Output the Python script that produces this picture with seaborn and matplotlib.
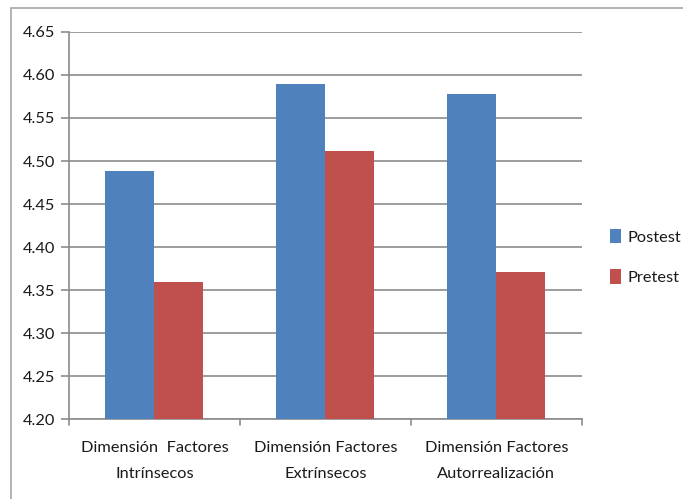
import matplotlib
matplotlib.use("Agg")
import matplotlib.pyplot as plt
from matplotlib.patches import Rectangle, Patch
import seaborn as sns
import pandas as pd

categories = ["Dimensión  Factores\nIntrínsecos",
              "Dimensión Factores\nExtrínsecos",
              "Dimensión Factores\nAutorrealización"]
postest = [4.488, 4.590, 4.578]
pretest = [4.359, 4.512, 4.371]
series = ["Postest", "Pretest"]
colors = ["#4F81BD", "#C0504D"]
yticks = [4.20, 4.25, 4.30, 4.35, 4.40, 4.45, 4.50, 4.55, 4.60, 4.65]

df = pd.DataFrame({
    "categoria": categories * 2,
    "valor": postest + pretest,
    "serie": [series[0]] * 3 + [series[1]] * 3,
})

sns.set_style("white")
plt.rcParams["font.family"] = ["Lato", "DejaVu Sans"]
plt.rcParams["text.color"] = "#1a1a1a"
plt.rcParams["xtick.color"] = "#1a1a1a"
plt.rcParams["ytick.color"] = "#1a1a1a"

fig = plt.figure(figsize=(6.83, 4.99), dpi=100)
ax = fig.add_axes([0.101, 0.160, 0.751, 0.776])

sns.barplot(data=df, x="categoria", y="valor", hue="serie",
            palette=colors, width=0.573, gap=0, ax=ax, linewidth=0,
            saturation=1, legend=False, errorbar=None, zorder=3)

ax.set_ylim(4.20, 4.65)
ax.set_yticks(yticks)
ax.set_yticklabels([f"{v:.2f}" for v in yticks], fontsize=11.8)
ax.set_xlim(-0.5, 2.5)
ax.set_xticks([0, 1, 2])
ax.set_xticklabels(categories, fontsize=11.8, linespacing=2.05)
ax.set_xlabel("")
ax.set_ylabel("")

ax.grid(axis="y", color="#8c8c8c", linewidth=1.2, zorder=0)
ax.set_axisbelow(True)
for s in ["top", "right"]:
    ax.spines[s].set_visible(False)
for s in ["left", "bottom"]:
    ax.spines[s].set_color("#8c8c8c")
    ax.spines[s].set_linewidth(1.2)

ax.tick_params(axis="y", length=6, width=1.2, color="#8c8c8c", left=True, pad=4)
ax.tick_params(axis="x", length=0, pad=16)
# category boundary ticks on the x axis
for xb in [-0.5, 0.5, 1.5, 2.5]:
    ax.plot([xb, xb], [0, -0.016], transform=ax.get_xaxis_transform(),
            color="#8c8c8c", linewidth=1.2, clip_on=False)

handles = [Patch(facecolor=c, edgecolor="none", label=l) for c, l in zip(colors, series)]
fig.legend(handles=handles, loc="center left", bbox_to_anchor=(0.893, 0.485),
           frameon=False, fontsize=11.8, handlelength=0.7, handleheight=1.0,
           handletextpad=0.35, labelspacing=1.5, borderaxespad=0, borderpad=0)

# chart frame
fig.add_artist(Rectangle((11 / 683, -0.1), 1.2, (499 - 8) / 499 + 0.1,
                         transform=fig.transFigure, fill=False,
                         edgecolor="#a6a6a6", linewidth=1.2))

fig.savefig("out.png", dpi=100)
